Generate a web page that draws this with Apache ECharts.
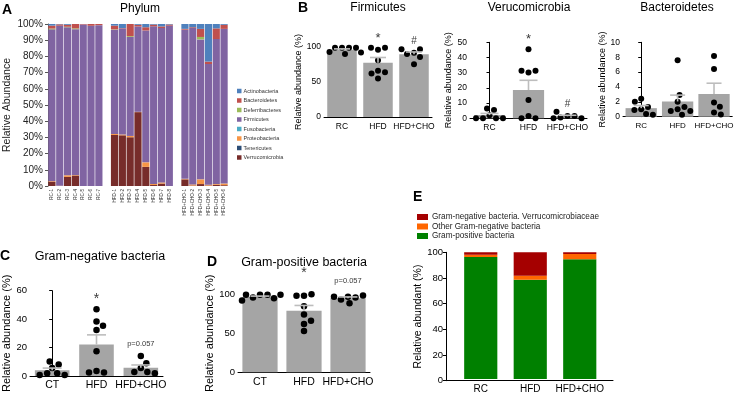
<!DOCTYPE html>
<html><head><meta charset="utf-8">
<script src="https://cdn.jsdelivr.net/npm/echarts@6/dist/echarts.min.js"></script>
<style>html,body{margin:0;padding:0;background:#fff}#c{width:736px;height:394px}</style>
</head><body><div id="c"></div><script>
// ---------------- DATA ----------------
const rcSamples = ['RC-1','RC-2','RC-3','RC-4','RC-5','RC-6','RC-7'];
const hfdSamples = ['HFD-1','HFD-2','HFD-3','HFD-4','HFD-5','HFD-6','HFD-7','HFD-8'];
const choSamples = ['HFD+CHO-1','HFD+CHO-2','HFD+CHO-3','HFD+CHO-4','HFD+CHO-5','HFD+CHO-6'];
const phylumNames = ['Actinobacteria','Bacteroidetes','Deferribacteres','Firmicutes','Fusobacteria','Proteobacteria','Tenericutes','Verrucomicrobia'];
// per sample: RC-1..7, HFD-1..8, HFD+CHO-1..6  (percent)
const actinobacteria  = [1.0,0.2,0.5,0,0,0,0,   1.0,2.5,0,0.5,2.0,0.4,1.5,0.3,   3.0,2.0,3.0,23.2,2.7,0.5];
const bacteroidetes   = [1.8,0.8,1.2,2.7,0.3,1.1,0.7,   2.3,0.2,7.5,1.0,2.0,1.0,1.0,0.7,   0.5,0.5,5.0,1.5,6.6,2.5];
const deferribacteres = [0.5,0,0.3,0.5,0,0,0,   0.2,0,0.5,0,0,0,0,0,   0,0,1.5,0,0,0];
const firmicutes      = [93.7,98.8,91.4,90.0,99.7,98.9,99.3,   64.4,65.5,61.1,52.7,81.4,97.3,95.3,99.0,   92.1,96.5,86.4,74.5,89.4,95.5];
const fusobacteria    = [0,0,0,0,0,0,0,   0,0,0,0,0,0,0,0,   0,0,0,0,0,0];
const proteobacteria  = [0.5,0.2,1.0,0.3,0,0,0,   0.6,0.5,0.8,0.2,2.8,0.7,0.7,0,   0.3,0.7,2.9,0.5,0.5,1.0];
const tenericutes     = [0,0,0,0,0,0,0,   0,0,0,0,0,0,0,0,   0,0,0,0,0,0];
const verrucomicrobia = [2.5,0,5.6,6.5,0,0,0,   31.5,31.3,30.1,45.6,11.8,0.6,1.5,0,   4.1,0.3,1.2,0.3,0.8,0.5];

const groupsB = ['RC','HFD','HFD+CHO'];
const firmMean = [96.0, 77.5, 89.6];
const firmSem  = [1.3, 7.5, 3.3];
const firmDots = [[99,99,99,99,93,92,90],[96,99,99,81,66,64,62,55],[91.7,96.7,90,75.5,96.7,85.8]];
const firmSig  = ['', '*', '#'];
const verrMean = [2.1, 18.6, 1.3];
const verrSem  = [1.1, 6.4, 0.7];
const verrDots = [[2,5.5,0,6.5,0,0,0],[30.2,1.5,45.4,31.3,12,0,31.3,0],[1.5,1.5,0.5,4.3,0,0]];
const verrSig  = ['', '*', '#'];
const bactMean = [1.15, 2.05, 3.05];
const bactSem  = [0.35, 0.85, 1.45];
const bactDots = [[1.0,1.3,0.9,2.4,2.0,0.35,0.25],[1.0,1.3,0.75,7.6,2.0,0.75,0.25,2.9],[8.15,6.4,1.9,1.35,0.55,0.3]];

const groupsCD = ['CT','HFD','HFD+CHO'];
const gnegMean = [4.0, 22.1, 5.7];
const gnegSem  = [1.5, 6.8, 2.0];
const gnegDots = [[5.5,1.8,8,1.8,10.2,0.7,0.7],[47,32.3,38.3,35.4,17.3,3.5,2.4,2.4],[5.5,8.9,2.8,14,2.8,1.8]];
const gnegSig  = ['', '*', 'p=0.057'];
const gposMean = [96.5, 78.8, 95.0];
const gposSem  = [1.2, 6.9, 1.6];
const gposDots = [[99.5,99.5,96,99.5,95,99.5,92],[98,100,98,84.6,74,62,66,53],[97,96,93.4,97,98.5,88.5]];
const gposSig  = ['', '*', 'p=0.057'];

const groupsE = ['RC','HFD','HFD+CHO'];
const gramPositive = [96.3, 78.4, 94.6];
const otherGramNeg = [1.7, 3.1, 4.1];
const verrucoGramNeg = [2.0, 18.5, 1.3];
const legendE = ['Gram-negative bacteria. Verrucomicrobiaceae','Other Gram-negative bacteria','Gram-positive bacteria'];

// ---------------- BUILD ----------------
const FONT = 'Liberation Sans, Arial, Helvetica, sans-serif';
const grids = [], xAxes = [], yAxes = [], series = [], graphics = [];
const phylumColors = {
  Actinobacteria:'#4F81BD', Bacteroidetes:'#C0504D', Deferribacteres:'#9BBB59', Firmicutes:'#8064A2',
  Fusobacteria:'#4BACC6', Proteobacteria:'#F79646', Tenericutes:'#2C4D75', Verrucomicrobia:'#772C2A'
};
const phylumData = {
  Actinobacteria:actinobacteria, Bacteroidetes:bacteroidetes, Deferribacteres:deferribacteres, Firmicutes:firmicutes,
  Fusobacteria:fusobacteria, Proteobacteria:proteobacteria, Tenericutes:tenericutes, Verrucomicrobia:verrucomicrobia
};
function text(x, y, t, font, align) {
  graphics.push({type:'text', x, y, style:{text:t, font, fill:'#000', align:align||'center', verticalAlign:'middle'}, silent:true});
}
function yAxisStyle(extra) {
  return Object.assign({
    type:'value', min:0,
    axisLine:{show:true, lineStyle:{color:'#000', width:1}},
    axisTick:{show:true, length:3, lineStyle:{color:'#000'}},
    splitLine:{show:false},
    nameLocation:'middle', nameRotate:90
  }, extra);
}

// ---- Panel A ----
(function(){
  const g = grids.length;
  grids.push({left:48, top:24, width:180, height:162});
  const cats = [...rcSamples, '', ...hfdSamples, ' ', ...choSamples];
  const withGaps = a => [...a.slice(0,7), null, ...a.slice(7,15), null, ...a.slice(15)];
  const xi = xAxes.length, yi = yAxes.length;
  xAxes.push({type:'category', gridIndex:g, data:cats,
    axisLine:{show:false}, axisTick:{show:false},
    axisLabel:{rotate:90, interval:0, fontSize:4.6, color:'#333', fontFamily:FONT, margin:3}});
  yAxes.push(yAxisStyle({gridIndex:g, max:100, interval:10,
    axisLine:{show:true, lineStyle:{color:'#555', width:1}},
    axisTick:{show:true, length:3, lineStyle:{color:'#555'}},
    axisLabel:{formatter:'{value}%', fontSize:10, color:'#222', fontFamily:FONT, margin:5},
    name:'Relative Abundance', nameGap:35, nameTextStyle:{fontSize:10.5, color:'#222', fontFamily:FONT}}));
  const stackOrder = ['Verrucomicrobia','Tenericutes','Proteobacteria','Fusobacteria','Firmicutes','Deferribacteres','Bacteroidetes','Actinobacteria'];
  stackOrder.forEach(n => series.push({type:'bar', name:n, stack:'phy', xAxisIndex:xi, yAxisIndex:yi,
    data:withGaps(phylumData[n]), barCategoryGap:'8%', itemStyle:{color:phylumColors[n]}, animation:false, emphasis:{disabled:true}}));
  text(140, 9, 'Phylum', '12px ' + FONT);
  text(2, 10, 'A', 'bold 14px ' + FONT, 'left');
})();

// ---- dot/bar panels ----
function swarm(vals, pxPerUnit, r, catPx) {
  const placed = [];
  return vals.map(v => {
    const y = v * pxPerUnit;
    let off = 0;
    for (let k = 0; k < 200; k++) {
      const cand = (k === 0) ? 0 : ((k % 2) ? 1 : -1) * Math.ceil(k / 2) * 0.5;
      if (placed.every(p => Math.hypot(p[0] - cand, p[1] - y) >= 2 * r * 1.15)) { off = cand; break; }
    }
    placed.push([off, y]);
    return off / catPx;
  });
}
function dotPanel(c) {
  const g = grids.length;
  grids.push({left:c.left, top:c.top, width:c.width, height:c.height});
  const xi = xAxes.length, yi = yAxes.length;
  xAxes.push({type:'category', gridIndex:g, data:c.cats,
    axisLine:{show:true, lineStyle:{color:'#000'}}, axisTick:{show:false},
    axisLabel:{interval:0, fontSize:c.catFont, color:'#000', fontFamily:FONT, margin:c.catMargin}});
  xAxes.push({type:'value', gridIndex:g, min:-0.5, max:c.cats.length - 0.5, show:false});
  yAxes.push(yAxisStyle({gridIndex:g, max:c.yMax, interval:c.interval,
    axisLabel:{fontSize:c.tickFont, color:'#000', fontFamily:FONT, margin:3},
    name:'Relative abundance (%)', nameGap:c.nameGap, nameTextStyle:{fontSize:c.nameFont, color:'#000', fontFamily:FONT}}));
  series.push({type:'bar', xAxisIndex:xi, yAxisIndex:yi, data:c.means, barWidth:c.barWidth,
    itemStyle:{color:'#a5a5a5'}, animation:false, emphasis:{disabled:true}, z:2});
  const pxPerUnit = c.height / c.yMax, catPx = c.width / c.cats.length;
  const pts = [];
  c.dots.forEach((vals, i) => {
    const offs = swarm(vals, pxPerUnit, c.dotSize / 2, catPx);
    vals.forEach((v, k) => pts.push([i + offs[k], v]));
  });
  series.push({type:'scatter', xAxisIndex:xi + 1, yAxisIndex:yi, data:pts, symbolSize:c.dotSize,
    itemStyle:{color:'#000', opacity:1}, animation:false, emphasis:{disabled:true}, z:3});
  const capW = c.capW;
  series.push({type:'custom', xAxisIndex:xi + 1, yAxisIndex:yi, z:4, animation:false, silent:true,
    data:c.means.map((m, i) => [i, m, c.sems[i]]),
    renderItem:(params, api) => {
      const i = api.value(0), m = api.value(1), s = api.value(2);
      const p0 = api.coord([i, m]), p1 = api.coord([i, m + s]);
      const st = {stroke:'#bdbdbd', lineWidth:1.6};
      return {type:'group', children:[
        {type:'line', shape:{x1:p0[0], y1:p0[1], x2:p1[0], y2:p1[1]}, style:st},
        {type:'line', shape:{x1:p1[0] - capW / 2, y1:p1[1], x2:p1[0] + capW / 2, y2:p1[1]}, style:st}
      ]};
    }});
  if (c.sig) {
    const sd = [];
    c.sig.forEach((t, i) => { if (t) sd.push([i, Math.max(...c.dots[i]), t]); });
    series.push({type:'scatter', xAxisIndex:xi + 1, yAxisIndex:yi, symbolSize:0, silent:true, animation:false, z:5,
      data:sd.map(d => ({value:d, label:{show:true, position:'top', formatter:String(d[2]), color:'#000', fontFamily:FONT,
        fontSize: d[2].length > 2 ? c.pFont : (d[2] === '*' ? c.starFont : c.hashFont),
        distance: d[2].length > 2 ? c.pDist : c.sigDist}}))});
  }
  text(c.titleX, c.titleY, c.title, c.titleFont + 'px ' + FONT);
  if (c.letter) text(c.letterX, c.letterY, c.letter, 'bold 14px ' + FONT, 'left');
}

dotPanel({left:324, top:47, width:108, height:70, yMax:100, interval:50, cats:groupsB, means:firmMean, sems:firmSem, dots:firmDots, sig:firmSig,
  barWidth:'82%', dotSize:6, capW:16, catFont:8.5, catMargin:5, tickFont:8.5, nameFont:9, nameGap:17,
  starFont:13, hashFont:10, pFont:7, sigDist:3, pDist:8,
  title:'Firmicutes', titleX:378, titleY:8, titleFont:12, letter:'B', letterX:298, letterY:8});
dotPanel({left:470, top:42.3, width:117, height:76, yMax:50, interval:10, cats:groupsB, means:verrMean, sems:verrSem, dots:verrDots, sig:verrSig,
  barWidth:'80%', dotSize:6, capW:18, catFont:8.5, catMargin:5, tickFont:8.5, nameFont:9, nameGap:17,
  starFont:13, hashFont:10, pFont:7, sigDist:3, pDist:8,
  title:'Verucomicrobia', titleX:529, titleY:8, titleFont:12});
dotPanel({left:623, top:42.3, width:112, height:74.4, yMax:10, interval:2, cats:groupsB, means:bactMean, sems:bactSem, dots:bactDots, sig:null,
  barWidth:'86%', dotSize:6, capW:15, catFont:8, catMargin:5, tickFont:8.5, nameFont:9, nameGap:13,
  title:'Bacteroidetes', titleX:677, titleY:8, titleFont:12});
dotPanel({left:30, top:290.7, width:133, height:90.3, yMax:60, interval:20, cats:groupsCD, means:gnegMean, sems:gnegSem, dots:gnegDots, sig:gnegSig,
  barWidth:'78%', dotSize:6.5, capW:19, catFont:10.5, catMargin:4, tickFont:9.5, nameFont:11, nameGap:17,
  starFont:14, hashFont:11, pFont:7.5, sigDist:3, pDist:8,
  title:'Gram-negative bacteria', titleX:100, titleY:257, titleFont:12.5, letter:'C', letterX:0, letterY:256});
dotPanel({left:238, top:294.3, width:132, height:86.7, yMax:100, interval:50, cats:groupsCD, means:gposMean, sems:gposSem, dots:gposDots, sig:gposSig,
  barWidth:'80%', dotSize:6.5, capW:19, catFont:10.5, catMargin:4, tickFont:9.5, nameFont:11, nameGap:20,
  starFont:14, hashFont:11, pFont:7.5, sigDist:14, pDist:11,
  title:'Gram-positive bacteria', titleX:304, titleY:263, titleFont:12.5, letter:'D', letterX:207, letterY:262});

// ---- Panel E ----
(function(){
  const gF = grids.length;
  grids.push({left:446, top:252.3, width:167, height:128.4});
  const gD = grids.length;
  grids.push({left:456, top:252.3, width:148.5, height:128.4});
  const xF = xAxes.length;
  xAxes.push({type:'value', gridIndex:gF, min:0, max:1, axisLine:{show:true, lineStyle:{color:'#000'}}, axisTick:{show:false}, axisLabel:{show:false}, splitLine:{show:false}});
  xAxes.push({type:'category', gridIndex:gD, data:groupsE, axisLine:{show:false}, axisTick:{show:false},
    axisLabel:{interval:0, fontSize:10, color:'#000', fontFamily:FONT, margin:5}});
  const yF = yAxes.length;
  yAxes.push(yAxisStyle({gridIndex:gF, max:100, interval:20,
    axisLabel:{fontSize:9.5, color:'#000', fontFamily:FONT, margin:3},
    name:'Relative abundant (%)', nameGap:20, nameTextStyle:{fontSize:10.5, color:'#000', fontFamily:FONT}}));
  yAxes.push({type:'value', gridIndex:gD, min:0, max:100, show:false});
  const cols = {'Gram-positive bacteria':'#008000','Other Gram-negative bacteria':'#FF6600','Gram-negative bacteria. Verrucomicrobiaceae':'#A50000'};
  [['Gram-positive bacteria', gramPositive], ['Other Gram-negative bacteria', otherGramNeg], ['Gram-negative bacteria. Verrucomicrobiaceae', verrucoGramNeg]]
    .forEach(([n, d]) => series.push({type:'bar', name:n, stack:'gram', xAxisIndex:xF + 1, yAxisIndex:yF + 1, data:d, barWidth:'67%',
      itemStyle:{color:cols[n]}, animation:false, emphasis:{disabled:true}}));
  text(413, 197, 'E', 'bold 14px ' + FONT, 'left');
})();

const chart = echarts.init(document.getElementById('c'), null, {renderer:'canvas'});
chart.setOption({
  backgroundColor:'#fff',
  animation:false,
  textStyle:{fontFamily:FONT},
  grid:grids, xAxis:xAxes, yAxis:yAxes, series,
  legend:[
    {data:phylumNames, orient:'vertical', left:232, top:82, itemWidth:4.5, itemHeight:4.5, itemGap:1.5, icon:'rect',
     selectedMode:false, textStyle:{fontSize:5.5, lineHeight:8, color:'#333', fontFamily:FONT, padding:[0,0,0,-3]}},
    {data:legendE, orient:'vertical', left:412, top:208, itemWidth:11, itemHeight:6, itemGap:1.5, icon:'rect',
     selectedMode:false, textStyle:{fontSize:8.2, lineHeight:8, color:'#222', fontFamily:FONT, padding:[0,0,0,-1]}}
  ],
  graphic:graphics
});
</script></body></html>
